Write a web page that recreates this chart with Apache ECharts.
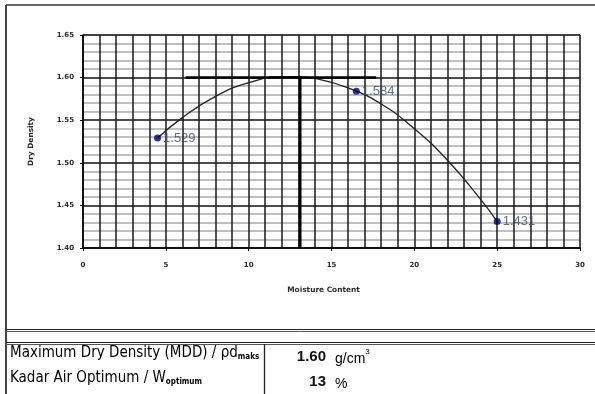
<!DOCTYPE html>
<html><head><meta charset="utf-8">
<script src="https://cdn.jsdelivr.net/npm/echarts@6/dist/echarts.min.js"></script>
<style>html,body{margin:0;padding:0;background:#fff}#c{width:595px;height:394px}</style>
</head><body><div id="c"></div>
<script>
// Data
const pointX = [4.5, 16.5, 25.0];
const pointY = [1.529, 1.584, 1.431];
const pointLabels = ['1.529', '1.584', '1.431'];
// trend curve points
const curveX = [4.5, 6, 8, 10, 12, 13, 14, 16, 18, 20, 22, 24, 25];
const curveY = [1.529, 1.553, 1.578, 1.594, 1.601, 1.601, 1.599, 1.588, 1.569, 1.540, 1.503, 1.457, 1.431];
// MDD guide lines
const mddLineX = [6.2, 17.7];
const mddValue = 1.60;
const optX = 13.1;
const yBase = 1.40;
const xTicks = [0, 5, 10, 15, 20, 25, 30];
const yTicks = ['1.40', '1.45', '1.50', '1.55', '1.60', '1.65'];
const tableRows = [
  {label: 'Maximum Dry Density (MDD) / ', sym: 'ρd', sub: 'maks', value: '1.60', unit: 'g/cm', sup: '3'},
  {label: 'Kadar Air Optimum / ', sym: 'W', sub: 'optimum', value: '13', unit: '%', sup: ''}
];

const chart = echarts.init(document.getElementById('c'), null, {renderer: 'canvas'});
const small = {fontFamily: '"DejaVu Sans", sans-serif', fontSize: 7, fontWeight: 'bold', color: '#2a2a2a'};
const nameStyle = {fontFamily: '"DejaVu Sans", sans-serif', fontSize: 7.4, fontWeight: 'bold', color: '#2a2a2a'};
const tf = '"Liberation Sans Narrow", "DejaVu Sans Condensed", "Liberation Sans", sans-serif';

const graphics = [
  {type: 'line', shape: {x1: 6, y1: 5, x2: 595, y2: 5}, style: {stroke: '#666', lineWidth: 2}},
  {type: 'line', shape: {x1: 6, y1: 5, x2: 6, y2: 394}, style: {stroke: '#444', lineWidth: 2}},
  {type: 'line', shape: {x1: 6, y1: 329.5, x2: 595, y2: 329.5}, style: {stroke: '#222', lineWidth: 1.2}},
  {type: 'line', shape: {x1: 6, y1: 331.5, x2: 595, y2: 331.5}, style: {stroke: '#555', lineWidth: 1}},
  {type: 'line', shape: {x1: 6, y1: 342.5, x2: 595, y2: 342.5}, style: {stroke: '#222', lineWidth: 1.2}},
  {type: 'line', shape: {x1: 6, y1: 344.5, x2: 595, y2: 344.5}, style: {stroke: '#555', lineWidth: 1}},
  {type: 'line', shape: {x1: 264.5, y1: 344, x2: 264.5, y2: 394}, style: {stroke: '#222', lineWidth: 1.3}}
];
tableRows.forEach((r, i) => {
  const y = 357 + i * 25;
  graphics.push({type: 'text', left: 10, top: y - 11, style: {
    text: '{a|' + r.label + '}{b|' + r.sym + '}{s|' + r.sub + '}',
    rich: {
      a: {fontFamily: tf, fontSize: 15, color: '#111', lineHeight: 20, verticalAlign: 'bottom'},
      b: {fontFamily: tf, fontSize: 15, color: '#111', lineHeight: 20, verticalAlign: 'bottom'},
      s: {fontFamily: tf, fontSize: 8, fontWeight: 'bold', color: '#111', lineHeight: 14, verticalAlign: 'bottom'}
    }
  }});
  graphics.push({type: 'text', x: 326, y: y, style: {text: r.value, align: 'right', verticalAlign: 'middle',
    font: 'bold 15px Arial, "Liberation Sans", sans-serif', fill: '#111'}});
  graphics.push({type: 'text', x: 335, y: y, style: {
    text: '{u|' + r.unit + '}' + (r.sup ? '{p|' + r.sup + '}' : ''), verticalAlign: 'middle',
    rich: {
      u: {fontFamily: 'Arial, "Liberation Sans", sans-serif', fontSize: 14, color: '#111', lineHeight: 18, verticalAlign: 'bottom'},
      p: {fontFamily: 'Arial, "Liberation Sans", sans-serif', fontSize: 8, color: '#111', lineHeight: 18, verticalAlign: 'top'}
    }
  }});
});

chart.setOption({
  animation: false,
  backgroundColor: '#fff',
  grid: {left: 83, right: 15, top: 35, bottom: 146, show: true, borderColor: '#bbb', borderWidth: 1, backgroundColor: 'transparent'},
  xAxis: {
    type: 'value', min: 0, max: 30, interval: 5,
    name: 'Moisture Content', nameLocation: 'middle', nameGap: 39,
    nameTextStyle: Object.assign({}, nameStyle, {padding: [0, 16, 0, 0]}),
    axisLine: {show: true, lineStyle: {color: '#000', width: 1.5}},
    axisTick: {show: true, length: 3, lineStyle: {color: '#000'}},
    axisLabel: Object.assign({}, small, {margin: 14, formatter: v => xTicks.includes(v) ? String(v) : ''}),
    splitLine: {show: true, lineStyle: {color: '#1a1a1a', width: 1.5}},
    minorTick: {show: false, splitNumber: 5},
    minorSplitLine: {show: true, lineStyle: {color: '#1a1a1a', width: 1.5}}
  },
  yAxis: {
    type: 'value', min: 1.40, max: 1.65, interval: 0.05,
    name: 'Dry Density', nameLocation: 'middle', nameGap: 48, nameRotate: 90,
    nameTextStyle: nameStyle,
    axisLine: {show: true, lineStyle: {color: '#000', width: 1.5}},
    axisTick: {show: true, length: 3, lineStyle: {color: '#000'}},
    axisLabel: Object.assign({}, small, {margin: 9, formatter: v => yTicks[Math.round((v - 1.40) / 0.05)] || ''}),
    splitLine: {show: true, lineStyle: {color: '#111', width: 1.5}},
    minorTick: {show: false, splitNumber: 5},
    minorSplitLine: {show: true, lineStyle: {color: '#aaa', width: 1.5}}
  },
  series: [
    {type: 'line', data: curveX.map((x, i) => [x, curveY[i]]), smooth: 0.5, showSymbol: false,
     lineStyle: {color: '#222', width: 1.3}, z: 3},
    {type: 'line', data: mddLineX.map(x => [x, mddValue]), showSymbol: false,
     lineStyle: {color: '#000', width: 2.5}, z: 4},
    {type: 'line', data: [[optX, mddValue], [optX, yBase]], showSymbol: false,
     lineStyle: {color: '#000', width: 3}, z: 4},
    {type: 'scatter', data: pointX.map((x, i) => [x, pointY[i]]), symbolSize: 7,
     itemStyle: {color: '#00006e'}, z: 5,
     label: {show: true, position: 'right', distance: 2, formatter: p => pointLabels[p.dataIndex],
       fontFamily: 'Arial, "Liberation Sans", sans-serif', fontSize: 13, color: '#3b4a6e'}}
  ],
  graphic: graphics
});
</script></body></html>
